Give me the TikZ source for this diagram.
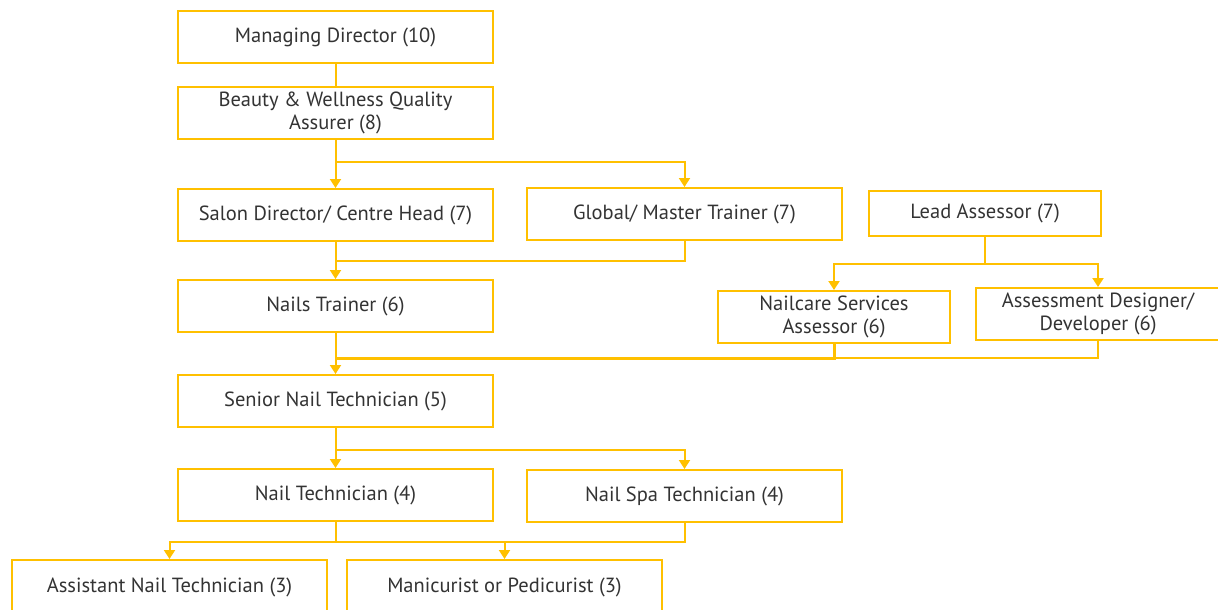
\documentclass[tikz,border=0pt]{standalone}
\usepackage{fontspec}
\setmainfont{PT Sans}
\usetikzlibrary{arrows.meta,calc}
\definecolor{ey}{HTML}{FFC000}
\definecolor{txt}{HTML}{333333}
\begin{document}
\begin{tikzpicture}[x=1pt,y=-1pt,
  box/.style={draw=ey,line width=2pt,fill=white,text=txt,font=\fontsize{20.5}{23}\selectfont,align=center,inner sep=0pt,anchor=north west},
  wbox/.style={box,minimum width=315pt,minimum height=52pt},
  sbox/.style={box,minimum width=232pt,minimum height=52pt},
  conn/.style={draw=ey,line width=2pt},
  arr/.style={conn,-{Triangle[width=11pt,length=9pt]}}]
\useasboundingbox (0,0) rectangle (1218,610);
\clip (0,0) rectangle (1218,610);
\node[wbox] (md) at (177,10) {Managing Director (10)};
\node[wbox] (bw) at (177,86) {Beauty \& Wellness Quality\\Assurer (8)};
\node[wbox] (sd) at (177,188) {Salon Director/ Centre Head (7)};
\node[wbox] (gm) at (526,187) {Global/ Master Trainer (7)};
\node[sbox,minimum height=45pt] (la) at (868,190) {Lead Assessor (7)};
\node[wbox] (nt) at (177,279) {Nails Trainer (6)};
\node[sbox] (nsa) at (717,290) {Nailcare Services\\Assessor (6)};
\node[box,minimum width=244pt,minimum height=52pt] (ad) at (975,287) {Assessment Designer/\\Developer (6)};
\node[wbox] (snt) at (177,374) {Senior Nail Technician (5)};
\node[wbox] (ntc) at (177,468) {Nail Technician (4)};
\node[wbox] (nst) at (526,469) {Nail Spa Technician (4)};
\node[wbox,minimum height=60pt] (ant) at (11,559) {\raisebox{10pt}{Assistant Nail Technician (3)}};
\node[wbox,minimum height=60pt] (mp) at (346,559) {\raisebox{10pt}{Manicurist or Pedicurist (3)}};
\coordinate (j1) at ($(bw.south)+(0,22)$);
\coordinate (j2) at ($(sd.south)+(0,19)$);
\coordinate (j3) at ($(la.south)+(0,27)$);
\coordinate (j4) at ($(nt.south)+(0,25)$);
\coordinate (j5) at ($(snt.south)+(0,22)$);
\coordinate (j6) at ($(ntc.south)+(0,20)$);
\coordinate (j7) at (mp.north |- j6);
\draw[conn] (md.south) -- (bw.north);
\draw[arr] (bw.south) -- (sd.north);
\draw[arr] (j1) -| (gm.north);
\draw[arr] (sd.south) -- (nt.north);
\draw[conn] (gm.south) |- (j2);
\draw[conn] (la.south) -- (j3);
\draw[arr] (j3) -| (nsa.north);
\draw[arr] (j3) -| (ad.north);
\draw[arr] (nt.south) -- (snt.north);
\draw[conn,line width=3pt] (nsa.south) |- (j4);
\draw[conn] (ad.south) |- (nsa.south |- j4);
\draw[arr] (snt.south) -- (ntc.north);
\draw[arr] (j5) -| (nst.north);
\draw[conn] (ntc.south) -- (j6);
\draw[arr] (j6) -| (ant.north);
\draw[arr] (j6) -| (mp.north);
\draw[conn] (nst.south) |- (j7);
\end{tikzpicture}
\end{document}
